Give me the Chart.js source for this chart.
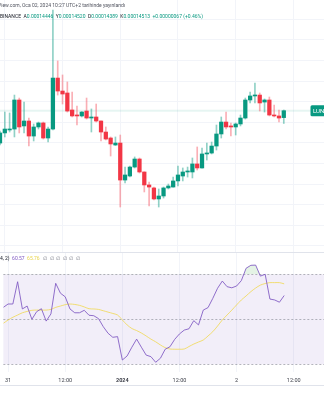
<!DOCTYPE html>
<html>
<head>
<meta charset="utf-8">
<script src="https://cdn.jsdelivr.net/npm/chart.js@4.4.1/dist/chart.umd.min.js"></script>
<style>
  html, body { margin: 0; padding: 0; background: #ffffff; width: 324px; height: 400px; overflow: hidden; }
  #pricePane { position: absolute; left: 0; top: 0; width: 324px; height: 252px; }
  #paneSep { position: absolute; left: 0; top: 252px; width: 324px; height: 1px; background: #e0e3eb; }
  #rsiPane { position: absolute; left: 0; top: 253px; width: 324px; height: 147px; }
  canvas { display: block; }
</style>
</head>
<body>
<div id="pricePane"><canvas id="price" width="324" height="252"></canvas></div>
<div id="paneSep"></div>
<div id="rsiPane"><canvas id="rsi" width="324" height="147"></canvas></div>
<script>
// LUNA/USDT hourly candles, 31 Dec 2023 - 2 Jan 2024
const opens = [
  0.00014199, 0.00014297, 0.00014326, 0.00014335, 0.00014617, 0.00014365, 0.00014413, 0.00014267, 0.00014355, 0.00014394,
  0.00014248, 0.00014335, 0.00014830, 0.00014704, 0.00014685, 0.00014520, 0.00014471, 0.00014462, 0.00014510, 0.00014442,
  0.00014452, 0.00014413, 0.00014306, 0.00014248, 0.00014180, 0.00014199, 0.00013840, 0.00013879, 0.00013966, 0.00014044,
  0.00013918, 0.00013792, 0.00013763, 0.00013656, 0.00013685, 0.00013763, 0.00013772, 0.00013831, 0.00013879, 0.00013918,
  0.00013918, 0.00013996, 0.00013957, 0.00014093, 0.00014102, 0.00014170, 0.00014287, 0.00014403, 0.00014365, 0.00014355,
  0.00014384, 0.00014442, 0.00014617, 0.00014656, 0.00014665, 0.00014597, 0.00014617, 0.00014471, 0.00014462, 0.00014446
];
const highs = [
  0.00014316, 0.00014500, 0.00014491, 0.00014665, 0.00014636, 0.00014597, 0.00014442, 0.00014384, 0.00014403, 0.00014403,
  0.00014355, 0.00015491, 0.00014996, 0.00014860, 0.00014792, 0.00014695, 0.00014559, 0.00014505, 0.00014636, 0.00014530,
  0.00014578, 0.00014415, 0.00014355, 0.00014258, 0.00014258, 0.00014277, 0.00013966, 0.00013976, 0.00014064, 0.00014054,
  0.00013920, 0.00013821, 0.00013772, 0.00013753, 0.00013772, 0.00013801, 0.00013869, 0.00013976, 0.00013957, 0.00013966,
  0.00014054, 0.00014161, 0.00014151, 0.00014199, 0.00014209, 0.00014374, 0.00014452, 0.00014500, 0.00014394, 0.00014394,
  0.00014471, 0.00014636, 0.00014695, 0.00014782, 0.00014685, 0.00014627, 0.00014646, 0.00014568, 0.00014520, 0.00014520
];
const lows = [
  0.00014180, 0.00014258, 0.00014306, 0.00014258, 0.00014297, 0.00014297, 0.00014170, 0.00014219, 0.00014335, 0.00014238,
  0.00014209, 0.00014326, 0.00014665, 0.00014578, 0.00014500, 0.00014452, 0.00014374, 0.00014452, 0.00014432, 0.00014306,
  0.00014403, 0.00014219, 0.00014229, 0.00014073, 0.00014175, 0.00013578, 0.00013811, 0.00013869, 0.00013957, 0.00013908,
  0.00013724, 0.00013588, 0.00013646, 0.00013578, 0.00013665, 0.00013753, 0.00013770, 0.00013782, 0.00013831, 0.00013869,
  0.00013860, 0.00013937, 0.00013955, 0.00014034, 0.00014093, 0.00014131, 0.00014248, 0.00014335, 0.00014267, 0.00014277,
  0.00014365, 0.00014432, 0.00014588, 0.00014588, 0.00014510, 0.00014500, 0.00014462, 0.00014452, 0.00014403, 0.00014389
];
const closes = [
  0.00014297, 0.00014335, 0.00014335, 0.00014617, 0.00014355, 0.00014413, 0.00014267, 0.00014355, 0.00014394, 0.00014248,
  0.00014335, 0.00014830, 0.00014704, 0.00014675, 0.00014510, 0.00014462, 0.00014462, 0.00014500, 0.00014442, 0.00014452,
  0.00014413, 0.00014306, 0.00014238, 0.00014190, 0.00014199, 0.00013840, 0.00013889, 0.00013966, 0.00014044, 0.00013918,
  0.00013792, 0.00013772, 0.00013656, 0.00013685, 0.00013763, 0.00013782, 0.00013831, 0.00013889, 0.00013918, 0.00013928,
  0.00013996, 0.00013957, 0.00014093, 0.00014102, 0.00014170, 0.00014287, 0.00014403, 0.00014355, 0.00014355, 0.00014384,
  0.00014442, 0.00014617, 0.00014656, 0.00014665, 0.00014588, 0.00014617, 0.00014471, 0.00014462, 0.00014442, 0.00014513
];

// RSI (14) and its smoothing average, one value per candle
const rsiValues = [
  55.3, 56.8, 56.8, 66.7, 54.6, 55.9, 50.0, 53.4, 54.7, 49.2,
  52.4, 66.0, 61.6, 60.0, 54.6, 52.9, 52.9, 54.0, 51.8, 51.6,
  50.3, 46.7, 43.8, 42.0, 42.3, 31.9, 33.7, 37.6, 41.2, 37.6,
  34.1, 33.4, 30.9, 32.7, 36.7, 37.8, 41.1, 43.5, 45.2, 45.8,
  49.4, 47.5, 54.1, 55.2, 59.3, 63.8, 67.0, 64.5, 64.0, 64.8,
  67.2, 72.7, 74.0, 74.1, 69.2, 70.0, 59.0, 58.6, 57.6, 60.57
];
const rsiMaValues = [
  48.2, 49.7, 50.9, 51.9, 52.9, 53.5, 54.0, 54.1, 54.1, 54.1,
  54.4, 55.3, 55.9, 56.5, 56.8, 56.6, 56.2, 55.5, 54.7, 54.6,
  54.4, 53.8, 53.2, 52.6, 51.9, 49.7, 47.5, 45.9, 45.0, 43.9,
  42.6, 41.2, 40.0, 38.6, 37.4, 36.8, 36.7, 36.7, 36.8, 37.9,
  39.0, 39.9, 40.8, 42.6, 44.5, 47.0, 49.7, 51.9, 54.1, 56.4,
  58.6, 60.4, 62.3, 63.9, 65.2, 65.9, 66.3, 66.3, 66.3, 65.76
];

// time axis: candle index of each labelled hour, and its label
const timeTickIndex = [1, 13, 25, 37, 49, 61];
const timeTickLabels = ['31', '12:00', '2024', '12:00', '2', '12:00'];
// horizontal price grid levels
const priceGridLevels = [
  0.000132, 0.000134, 0.000136, 0.000138, 0.000140, 0.000142,
  0.000144, 0.000146, 0.000148, 0.000150, 0.000152, 0.000154
];
// RSI band levels
const rsiBandLevels = [70, 50, 30];

const UP = '#089981';
const DOWN = '#F23645';
const UP_WICK = 'rgba(8,153,129,0.45)';
const DOWN_WICK = 'rgba(242,54,69,0.4)';
const GRID = '#f2f4f9';
const TEXT = '#131722';
const FONT = 'Roboto, "Liberation Sans", sans-serif';

const X_MIN = 0, X_MAX = 67.36;
const lastIdx = closes.length - 1;
const isUp = i => closes[i] >= opens[i];
const idx = opens.map((_, i) => i);

// header lines and last-price marker
const priceDecor = {
  id: 'priceDecor',
  beforeDatasetsDraw(chart) {
    const { ctx, chartArea, scales } = chart;
    const y = scales.y.getPixelForValue(closes[lastIdx]);
    ctx.save();
    ctx.fillStyle = 'rgba(8,153,129,0.10)';
    ctx.fillRect(chartArea.left, y - 1, chartArea.right - chartArea.left, 2);
    ctx.restore();
  },
  afterDraw(chart) {
    const { ctx, scales } = chart;
    ctx.save();
    ctx.textBaseline = 'middle';
    ctx.font = '5px ' + FONT;
    ctx.fillStyle = '#50535e';
    const head1 = 'TradingView.com, Oca 02, 2024 10:27 UTC+2 tarihinde yayınlandı';
    ctx.fillText(head1, -ctx.measureText('TradingV').width + 1.2, 5.8);

    // OHLC of the last candle
    const o = opens[lastIdx], h = highs[lastIdx], l = lows[lastIdx], c = closes[lastIdx];
    const diff = c - o;
    const pct = diff / o * 100;
    const sign = diff >= 0 ? '+' : '-';
    const parts = [
      ['LUNAUSDT · 1s · BINANCE  ', TEXT],
      ['A', TEXT], [o.toFixed(8) + '  ', UP],
      ['Y', TEXT], [h.toFixed(8) + '  ', UP],
      ['D', TEXT], [l.toFixed(8) + '  ', UP],
      ['K', TEXT], [c.toFixed(8) + '  ', UP],
      [sign + Math.abs(diff).toFixed(8) + ' (' + sign + Math.abs(pct).toFixed(2) + '%)', UP]
    ];
    let x = -ctx.measureText('LUNAUSDT · 1s · ').width;
    for (const [t, col] of parts) {
      ctx.fillStyle = col;
      ctx.fillText(t, x, 16.8);
      x += ctx.measureText(t).width;
    }

    // symbol tag on the right edge at the last price
    const y = scales.y.getPixelForValue(c);
    ctx.fillStyle = UP;
    ctx.beginPath();
    ctx.roundRect(310.5, y - 5.5, 30, 11, 1.5);
    ctx.fill();
    ctx.fillStyle = '#ffffff';
    ctx.font = '6px ' + FONT;
    ctx.fillText('LUNAUSDT', 313, y + 0.3);
    ctx.restore();
  }
};

new Chart(document.getElementById('price'), {
  type: 'bar',
  data: {
    datasets: [
      {
        label: 'wick',
        data: idx.map(i => ({ x: i, y: [lows[i], highs[i]] })),
        backgroundColor: ctx => isUp(ctx.dataIndex) ? UP_WICK : DOWN_WICK,
        barThickness: 1,
        grouped: false,
        order: 2,
        clip: 0
      },
      {
        label: 'body',
        data: idx.map(i => ({ x: i, y: [opens[i], closes[i]] })),
        backgroundColor: ctx => isUp(ctx.dataIndex) ? UP : DOWN,
        barThickness: 3.6,
        minBarLength: 1,
        grouped: false,
        order: 1,
        clip: 0
      }
    ]
  },
  options: {
    responsive: false,
    animation: false,
    devicePixelRatio: 1,
    layout: { padding: 0 },
    plugins: { legend: { display: false }, tooltip: { enabled: false } },
    scales: {
      x: {
        type: 'linear', min: X_MIN, max: X_MAX,
        offset: false,
        ticks: { display: false },
        grid: { color: GRID, drawTicks: false, offset: false },
        border: { display: false },
        afterBuildTicks: s => { s.ticks = timeTickIndex.map(v => ({ value: v })); }
      },
      y: {
        type: 'linear', min: 0.000131412, max: 0.000155878,
        ticks: { display: false },
        grid: { color: GRID, drawTicks: false },
        border: { display: false },
        afterBuildTicks: s => { s.ticks = priceGridLevels.map(v => ({ value: v })); }
      }
    }
  },
  plugins: [priceDecor]
});

// RSI band, level lines, legend and time-axis border
const rsiDecor = {
  id: 'rsiDecor',
  beforeDatasetsDraw(chart) {
    const { ctx, chartArea, scales } = chart;
    const yTop = scales.y.getPixelForValue(rsiBandLevels[0]);
    const yBot = scales.y.getPixelForValue(rsiBandLevels[2]);
    ctx.save();
    ctx.fillStyle = 'rgba(126,87,194,0.10)';
    ctx.fillRect(chartArea.left, yTop, chartArea.right - chartArea.left, yBot - yTop);
    ctx.strokeStyle = 'rgba(120,123,134,0.55)';
    ctx.lineWidth = 1;
    ctx.setLineDash([2, 2]);
    for (const lv of rsiBandLevels) {
      const y = Math.round(scales.y.getPixelForValue(lv)) + 0.5;
      ctx.beginPath();
      ctx.moveTo(chartArea.left, y);
      ctx.lineTo(chartArea.right, y);
      ctx.stroke();
    }
    ctx.restore();
  },
  afterDraw(chart) {
    const { ctx } = chart;
    ctx.save();
    ctx.textBaseline = 'middle';
    ctx.font = '5px ' + FONT;
    const parts = [
      ['RSI 14 close SMA (14, 2)  ', TEXT],
      [rsiValues[lastIdx].toFixed(2) + '  ', '#7E57C2'],
      [rsiMaValues[lastIdx].toFixed(2) + '   ', '#E8D44A'],
      ['∅  ∅  ∅  ∅  ∅  ∅', '#787b86']
    ];
    let x = -ctx.measureText('RSI 14 close SMA (1').width;
    for (const [t, col] of parts) {
      ctx.fillStyle = col;
      ctx.fillText(t, x, 6);
      x += ctx.measureText(t).width;
    }
    ctx.fillStyle = '#e0e3eb';
    ctx.fillRect(0, 132, chart.width, 1);
    ctx.restore();
  }
};

new Chart(document.getElementById('rsi'), {
  type: 'line',
  data: {
    datasets: [
      {
        label: 'RSI',
        data: idx.map(i => ({ x: i, y: rsiValues[i] })),
        borderColor: 'rgba(126,87,194,0.85)',
        borderWidth: 1,
        pointRadius: 0,
        tension: 0,
        fill: { target: { value: 70 }, above: 'rgba(76,175,80,0.15)', below: 'rgba(0,0,0,0)' },
        order: 1
      },
      {
        label: 'RSI MA',
        data: idx.map(i => ({ x: i, y: rsiMaValues[i] })),
        borderColor: 'rgba(240,215,70,0.75)',
        borderWidth: 1,
        pointRadius: 0,
        tension: 0.3,
        fill: false,
        order: 2
      }
    ]
  },
  options: {
    responsive: false,
    animation: false,
    devicePixelRatio: 1,
    layout: { padding: 0 },
    plugins: { legend: { display: false }, tooltip: { enabled: false } },
    scales: {
      x: {
        type: 'linear', min: X_MIN, max: X_MAX,
        grid: { color: GRID, drawTicks: false },
        border: { display: false },
        ticks: {
          autoSkip: false, maxRotation: 0, padding: 5,
          color: '#3b3e48',
          font: ctx => ({ family: FONT, size: 5.5, weight: ctx.tick && ctx.tick.label === '2024' ? 'bold' : 'normal' }),
          callback: v => timeTickLabels[timeTickIndex.indexOf(v)]
        },
        afterBuildTicks: s => { s.ticks = timeTickIndex.map(v => ({ value: v })); },
        afterFit: s => { s.height = 28; }
      },
      y: { type: 'linear', min: 26.58, max: 79.47, display: false }
    }
  },
  plugins: [rsiDecor]
});
</script>
</body>
</html>
